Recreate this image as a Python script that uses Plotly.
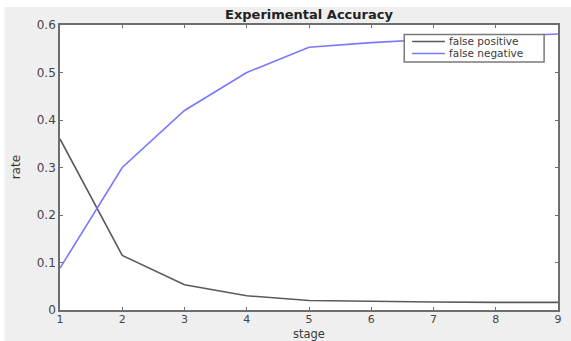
import plotly.graph_objects as go

stages = [1, 2, 3, 4, 5, 6, 7, 8, 9]
false_positive = [0.36, 0.115, 0.053, 0.030, 0.020, 0.018, 0.017, 0.016, 0.016]
false_negative = [0.088, 0.300, 0.420, 0.500, 0.553, 0.563, 0.570, 0.576, 0.581]
series_names = ["false positive", "false negative"]
series_colors = ["#5a5a5a", "#7878ff"]
x_ticks = [1, 2, 3, 4, 5, 6, 7, 8, 9]
y_ticks = [0, 0.1, 0.2, 0.3, 0.4, 0.5, 0.6]
y_ticklabels = ["0", "0.1", "0.2", "0.3", "0.4", "0.5", "0.6"]

FONT = "DejaVu Sans, Arial, sans-serif"
W, H = 571, 341
ML, MR, MT, MB = 60, 9, 25, 31
PW, PH = W - ML - MR, H - MT - MB


def px(xp):
    return (xp - ML) / PW


def py(yp):
    return (H - MB - yp) / PH


fig = go.Figure()
for name, vals, col in zip(series_names, [false_positive, false_negative], series_colors):
    fig.add_trace(go.Scatter(x=stages, y=vals, mode="lines", name=name,
                             line=dict(color=col, width=1.6), showlegend=False))

axis_common = dict(showline=True, linecolor="#6e6e6e", linewidth=1.6, mirror="ticks",
                   ticks="inside", ticklen=3, tickcolor="#6e6e6e", tickwidth=1,
                   showgrid=False, zeroline=False)

fig.update_xaxes(range=[1, 9], tickvals=x_ticks, ticklabelstandoff=-2,
                 tickfont=dict(family=FONT, size=11, color="#454545"), **axis_common)
fig.update_yaxes(range=[0, 0.6], tickvals=y_ticks, ticktext=y_ticklabels,
                 tickfont=dict(family=FONT, size=12, color="#454545"), **axis_common)

shapes = [
    # white strips at the top and left of the image
    dict(type="rect", xref="paper", yref="paper", x0=px(-5), x1=px(W + 5), y0=py(7), y1=py(-5),
         fillcolor="white", line=dict(width=0), layer="above"),
    dict(type="rect", xref="paper", yref="paper", x0=px(-5), x1=px(4), y0=py(H + 5), y1=py(-5),
         fillcolor="white", line=dict(width=0), layer="above"),
    # legend box
    dict(type="rect", xref="paper", yref="paper", x0=px(407), x1=px(548), y0=py(62), y1=py(34.5),
         fillcolor="white", line=dict(color="#7a7a7a", width=1.5), layer="above"),
]
annotations = []
for i, (name, col) in enumerate(zip(series_names, series_colors)):
    yy = py(41.5 + i * 12)
    shapes.append(dict(type="line", xref="paper", yref="paper", x0=px(415), x1=px(448), y0=yy, y1=yy,
                       line=dict(color=col, width=1.6), layer="above"))
    annotations.append(dict(text=name, xref="paper", yref="paper", x=px(450), y=yy,
                            xanchor="left", yanchor="middle", showarrow=False,
                            font=dict(family=FONT, size=10.5, color="#3a3a3a")))

annotations += [
    dict(text="stage", xref="paper", yref="paper", x=0.5, y=py(333.5), xanchor="center",
         yanchor="middle", showarrow=False, font=dict(family=FONT, size=11.5, color="#3a3a3a")),
    dict(text="rate", xref="paper", yref="paper", x=px(16), y=py(167), xanchor="center",
         yanchor="middle", textangle=-90, showarrow=False,
         font=dict(family=FONT, size=12, color="#3a3a3a")),
    dict(text="<b>Experimental Accuracy</b>", xref="paper", yref="paper", x=0.5, y=py(15),
         xanchor="center", yanchor="middle", showarrow=False,
         font=dict(family=FONT, size=13, color="#222222")),
]

fig.update_layout(width=W, height=H, margin=dict(l=ML, r=MR, t=MT, b=MB),
                  paper_bgcolor="#efefef", plot_bgcolor="white",
                  shapes=shapes, annotations=annotations, showlegend=False)

fig.write_html("out.html", config={"displayModeBar": False},
               post_script="document.body.style.margin='0';document.body.style.overflow='hidden';")
